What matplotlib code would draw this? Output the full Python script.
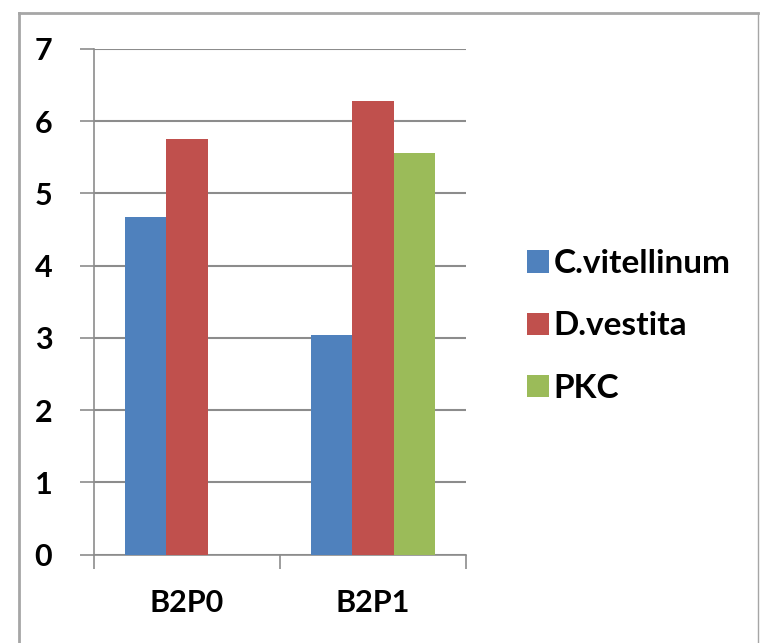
import matplotlib
matplotlib.use('Agg')
import matplotlib.pyplot as plt
from matplotlib.lines import Line2D
import numpy as np

categories = ['B2P0', 'B2P1']
series_names = ['C.vitellinum', 'D.vestita', 'PKC']
c_vitellinum = [4.68, 3.04]
d_vestita = [5.76, 6.28]
pkc = [np.nan, 5.56]
colors = ['#4F81BD', '#C0504D', '#9BBB59']

plt.rcParams['font.family'] = ['Lato', 'DejaVu Sans']

fig = plt.figure(figsize=(7.61, 6.43), dpi=100)
ax = fig.add_axes([94 / 761, 1 - 554.5 / 643, (466 - 94) / 761, (554.5 - 49) / 643])

x = np.arange(len(categories))
w = 0.222
for i, (vals, name) in enumerate(zip([c_vitellinum, d_vestita, pkc], series_names)):
    ax.bar(x + (i - 1) * w, vals, w, color=colors[i], label=name, zorder=3)

ax.set_xlim(-0.5, 1.5)
ax.set_ylim(0, 7)
ax.set_yticks(range(0, 8))
ax.grid(axis='y', color='#8c8c8c', lw=1.5, zorder=0)

# category boundaries as major ticks, names as minor tick labels
ax.set_xticks([-0.5, 0.5, 1.5])
ax.set_xticklabels([])
ax.set_xticks(x, minor=True)
ax.set_xticklabels(categories, minor=True)
ax.tick_params(axis='x', which='major', length=10, width=1.2, color='#8c8c8c', direction='out')
ax.tick_params(axis='x', which='minor', length=0, pad=25, labelsize=22)
ax.tick_params(axis='y', length=10, width=1.2, color='#8c8c8c', pad=20, labelsize=22)
for lab in ax.get_xticklabels(minor=True) + ax.get_yticklabels():
    lab.set_fontweight('bold')

for s in ['top', 'right']:
    ax.spines[s].set_visible(False)
for s in ['left', 'bottom']:
    ax.spines[s].set_color('#8c8c8c')
    ax.spines[s].set_linewidth(1.2)

leg = fig.legend(loc='center left', bbox_to_anchor=(497 / 761, 1 - 326 / 643),
                 frameon=False, fontsize=24, handlelength=0.65, handleheight=0.65,
                 handletextpad=0.15, labelspacing=1.0)
for t in leg.get_texts():
    t.set_fontweight('bold')

# outer chart frame
fc = '#a6a6a6'
fig.add_artist(Line2D([19 / 761, 19 / 761], [0, 1 - 13 / 643], color=fc, lw=2))
fig.add_artist(Line2D([19 / 761, 758 / 761], [1 - 13 / 643, 1 - 13 / 643], color=fc, lw=2))
fig.add_artist(Line2D([758 / 761, 758 / 761], [0, 1 - 13 / 643], color=fc, lw=1))

fig.savefig('out.png', dpi=100)
